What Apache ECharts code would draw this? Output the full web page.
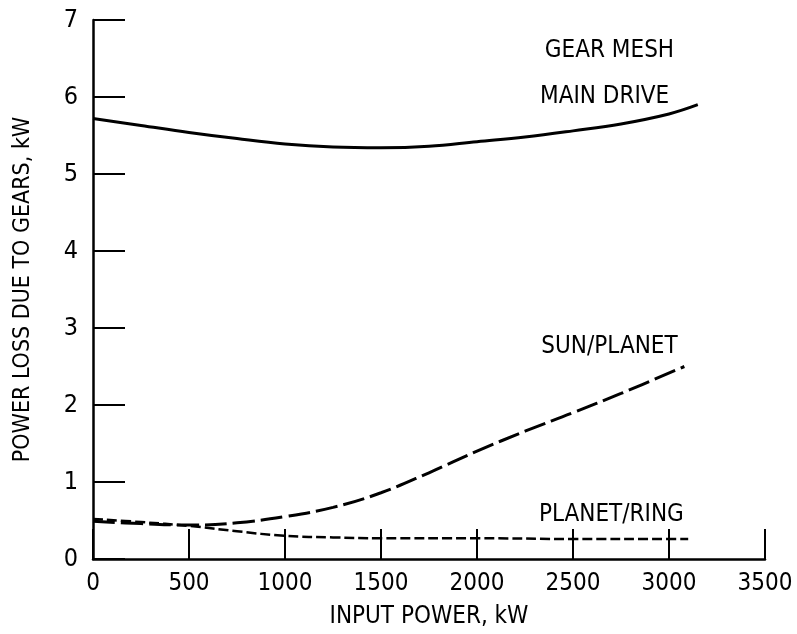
<!DOCTYPE html>
<html>
<head>
<meta charset="utf-8">
<script src="https://cdn.jsdelivr.net/npm/echarts@6/dist/echarts.min.js"></script>
<style>
  html, body { margin: 0; padding: 0; background: #fff; }
  #chart { width: 797px; height: 634px; }
</style>
</head>
<body>
<div id="chart"></div>
<script>
// values (kW)
var mainX = [0, 250, 500, 750, 1000, 1250, 1500, 1750, 2000, 2250, 2500, 2750, 3000, 3150];
var mainY = [5.72, 5.63, 5.54, 5.46, 5.39, 5.35, 5.34, 5.36, 5.42, 5.48, 5.56, 5.65, 5.78, 5.9];

var sunX = [0, 250, 500, 750, 1000, 1250, 1500, 1750, 2000, 2250, 2500, 2750, 3080];
var sunY = [0.49, 0.46, 0.44, 0.47, 0.55, 0.67, 0.86, 1.12, 1.4, 1.66, 1.9, 2.15, 2.5];

var ringX = [0, 250, 500, 750, 1000, 1250, 1500, 2000, 2500, 3000, 3100];
var ringY = [0.52, 0.48, 0.43, 0.36, 0.3, 0.28, 0.27, 0.27, 0.26, 0.26, 0.26];

// curve labels, placed in data units
var labelText = ['GEAR MESH', 'MAIN DRIVE', 'SUN/PLANET', 'PLANET/RING'];
var labelX = [2690, 2665, 2690, 2700];
var labelY = [6.6, 6.0, 2.76, 0.57];

var FONT = '"DejaVu Sans Condensed", "Liberation Sans Narrow", sans-serif';

function pairs(xs, ys) {
    return xs.map(function (x, i) { return [x, ys[i]]; });
}

var chart = echarts.init(document.getElementById('chart'));

chart.setOption({
    animation: false,
    backgroundColor: '#fff',
    grid: { left: 93, right: 32, top: 20, bottom: 74 },
    xAxis: {
        type: 'value',
        min: 0, max: 3500, interval: 500,
        name: 'INPUT POWER, kW',
        nameLocation: 'middle',
        nameGap: 46,
        nameTextStyle: { color: '#000', fontFamily: FONT, fontSize: 24 },
        axisLine: { lineStyle: { color: '#000', width: 2.5 } },
        axisTick: { inside: true, length: 30, lineStyle: { color: '#000', width: 2 } },
        axisLabel: {
            color: '#000', fontFamily: FONT, fontSize: 24, margin: 13,
            formatter: function (v) { return String(v); }
        },
        splitLine: { show: false }
    },
    yAxis: {
        type: 'value',
        min: 0, max: 7, interval: 1,
        name: 'POWER LOSS DUE TO GEARS, kW',
        nameLocation: 'middle',
        nameGap: 58,
        nameTextStyle: { color: '#000', fontFamily: FONT, fontSize: 23 },
        axisLine: { show: true, lineStyle: { color: '#000', width: 2.5 } },
        axisTick: { show: true, inside: true, length: 32, lineStyle: { color: '#000', width: 2 } },
        axisLabel: { color: '#000', fontFamily: FONT, fontSize: 25, margin: 15 },
        splitLine: { show: false }
    },
    series: [
        {
            name: 'MAIN DRIVE',
            type: 'line',
            smooth: 0.4,
            showSymbol: false,
            data: pairs(mainX, mainY),
            lineStyle: { color: '#000', width: 3 },
            markPoint: {
                symbol: 'circle',
                symbolSize: 0,
                label: {
                    show: true, position: 'inside', color: '#000',
                    fontFamily: FONT, fontSize: 24,
                    formatter: function (p) { return p.name; }
                },
                data: labelText.map(function (t, i) {
                    return { name: t, coord: [labelX[i], labelY[i]] };
                })
            }
        },
        {
            name: 'SUN/PLANET',
            type: 'line',
            smooth: 0.4,
            showSymbol: false,
            data: pairs(sunX, sunY),
            lineStyle: { color: '#000', width: 3, type: [22, 6] }
        },
        {
            name: 'PLANET/RING',
            type: 'line',
            smooth: 0.4,
            showSymbol: false,
            data: pairs(ringX, ringY),
            lineStyle: { color: '#000', width: 2.5, type: [10, 4] }
        }
    ]
});
</script>
</body>
</html>
